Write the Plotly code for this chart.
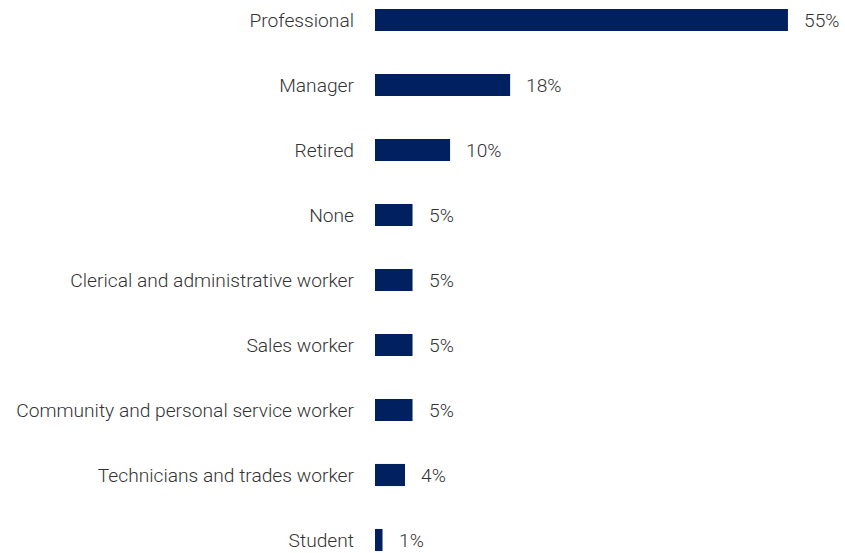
import plotly.graph_objects as go

# Occupation shares (%)
occupations = [
    "Professional",
    "Manager",
    "Retired",
    "None",
    "Clerical and administrative worker",
    "Sales worker",
    "Community and personal service worker",
    "Technicians and trades worker",
    "Student",
]
shares = [55, 18, 10, 5, 5, 5, 5, 4, 1]
share_labels = [f"{v}%" for v in shares]

BAR_COLOR = "#002060"
TEXT_COLOR = "#333333"
FONT = dict(family="Roboto", size=19.2, color=TEXT_COLOR, weight=300)

fig = go.Figure(
    go.Bar(
        x=shares,
        y=occupations,
        orientation="h",
        marker=dict(color=BAR_COLOR, line=dict(width=0)),
        width=0.34,
        hoverinfo="skip",
    )
)

# Value labels just past the end of each bar
for occ, v, lab in zip(occupations, shares, share_labels):
    fig.add_annotation(
        x=v, y=occ, text=lab, showarrow=False,
        xanchor="left", yanchor="middle", xshift=14,
        font=FONT,
    )

fig.update_layout(
    width=845,
    height=553,
    margin=dict(l=375, r=0, t=0, b=0),
    paper_bgcolor="white",
    plot_bgcolor="white",
    font=FONT,
    showlegend=False,
    xaxis=dict(
        range=[0, 62.6],
        visible=False,
        showgrid=False,
        zeroline=False,
    ),
    yaxis=dict(
        categoryorder="array",
        categoryarray=occupations,
        range=[8.2, -0.3077],
        showgrid=False,
        zeroline=False,
        showline=False,
        ticks="",
        ticklabelstandoff=20,
        tickfont=FONT,
    ),
)

fig.write_html("out.html")
